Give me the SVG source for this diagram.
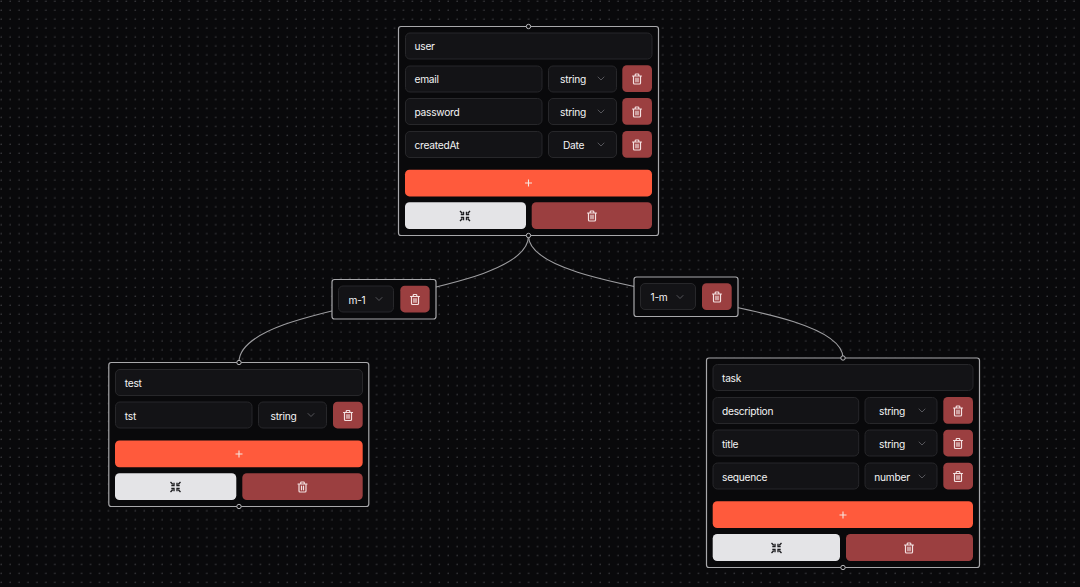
<svg xmlns="http://www.w3.org/2000/svg" width="1080" height="587" viewBox="0 0 1080 587">
<style>
text{font-family:Inter,"Liberation Sans",sans-serif;font-size:10.2px;letter-spacing:-.25px;fill:#f4f4f5;dominant-baseline:central}
.node{fill:#09090b;stroke:#a8a8ab;stroke-width:1.200}
.field{fill:#131316;stroke:#27272a;stroke-width:1}
.del{fill:#9b3f40}
.add{fill:#ff5a3c}
.col{fill:#e4e4e7}
.edge{fill:none;stroke:#9c9c9f;stroke-width:1.100}
.handle{fill:#09090b;stroke:#b8b8bb;stroke-width:1}
.ic{fill:none;stroke:#f4e2e2;stroke-width:1.200;stroke-linecap:round;stroke-linejoin:round}
.chev{fill:none;stroke:#55555a;stroke-width:1;stroke-linecap:round;stroke-linejoin:round}
.mid{text-anchor:middle}
</style>
<defs>
<pattern id="dots" width="8.940" height="8.940" patternUnits="userSpaceOnUse"><circle cx="1.200" cy="1.200" r="0.800" fill="#404045"/></pattern>
<g id="trash"><path class="ic" d="M-4.500-3H4.500M-3.500-3V4Q-3.500 5-2.500 5H2.500Q3.500 5 3.500 4V-3M-1.800-3V-4.200Q-1.800-5-1-5H1Q1.800-5 1.800-4.200V-3M-1-.8V2.800M1-.8V2.800"/></g>
<path id="chev" class="chev" d="M-3-1.500L0 1.500L3-1.500"/>
<g id="plus"><path d="M-3.500 0H3.500M0-3.500V3.500" fill="none" stroke="#f5e6e0" stroke-width="1.100"/></g>
<g id="collapse"><path d="M-5-5L-2.800-2.800M-1.500-4.200V-1.500H-4.200M5-5L2.800-2.800M1.500-4.200V-1.500H4.200M-5 5L-2.800 2.800M-1.500 4.200V1.500H-4.200M5 5L2.800 2.800M1.500 4.200V1.500H4.200" fill="none" stroke="#1c1c1f" stroke-width="1.350"/></g>
</defs>
<rect width="1080" height="587" fill="#09090b"/>
<rect width="1080" height="587" fill="url(#dots)"/>
<g id="connectors">
<path class="edge" d="M528.500 236C528.500 299 239 299 239 362"/>
<path class="edge" d="M528.500 236C528.500 297 843 297 843 358"/>
</g>
<g id="node-user">
<rect class="node" x="398.500" y="26.500" width="260" height="209" rx="2.500"/>
<circle class="handle" cx="528.500" cy="26.500" r="2.200"/><circle class="handle" cx="528.500" cy="235.500" r="2.200"/>
<rect class="field" x="405.500" y="33" width="246.500" height="26" rx="4.500"/><text x="414.500" y="46">user</text>
<rect class="field" x="405.500" y="66" width="136.500" height="26" rx="4.500"/><text x="414.500" y="79">email</text>
<rect class="field" x="548.500" y="66" width="68" height="26" rx="4.500"/><text class="mid" x="573" y="79">string</text><use href="#chev" x="601" y="78.500"/>
<rect class="del" x="622.300" y="65.300" width="29.700" height="26.700" rx="4.500"/><use href="#trash" x="637" y="79"/>
<rect class="field" x="405.500" y="98.500" width="136.500" height="26" rx="4.500"/><text x="414.500" y="112">password</text>
<rect class="field" x="548.500" y="98.500" width="68" height="26" rx="4.500"/><text class="mid" x="573" y="112">string</text><use href="#chev" x="601" y="111.500"/>
<rect class="del" x="622.300" y="98" width="29.700" height="26.700" rx="4.500"/><use href="#trash" x="637" y="112"/>
<rect class="field" x="405.500" y="131.500" width="136.500" height="26" rx="4.500"/><text x="414.500" y="145">createdAt</text>
<rect class="field" x="548.500" y="131.500" width="68" height="26" rx="4.500"/><text class="mid" x="573.500" y="145">Date</text><use href="#chev" x="601" y="144.500"/>
<rect class="del" x="622.300" y="131" width="29.700" height="26.700" rx="4.500"/><use href="#trash" x="637" y="145"/>
<rect class="add" x="405" y="169.700" width="247" height="26.700" rx="4.500"/><use href="#plus" x="528.500" y="183"/>
<rect class="col" x="405" y="202.300" width="121" height="26.700" rx="4.500"/><use href="#collapse" x="465" y="216"/>
<rect class="del" x="531.700" y="202.300" width="120.300" height="26.700" rx="4.500"/><use href="#trash" x="592" y="216"/>
</g>
<g id="edge-m-1">
<rect class="node" x="332" y="279.500" width="104" height="39.500" rx="2.500"/>
<rect class="field" x="338.500" y="286" width="55" height="26" rx="4.500"/><text class="mid" x="357" y="299.500">m-1</text><use href="#chev" x="379" y="299"/>
<rect class="del" x="400.300" y="285.700" width="29.400" height="26.700" rx="4.500"/><use href="#trash" x="415" y="299.500"/>
</g>
<g id="edge-1-m">
<rect class="node" x="634" y="277" width="104" height="39.500" rx="2.500"/>
<rect class="field" x="640.500" y="283.500" width="55" height="26" rx="4.500"/><text class="mid" x="659" y="297">1-m</text><use href="#chev" x="680" y="297"/>
<rect class="del" x="702" y="283.300" width="29.700" height="26.700" rx="4.500"/><use href="#trash" x="717" y="297"/>
</g>
<g id="node-test">
<rect class="node" x="108.800" y="362.500" width="260" height="144" rx="2.500"/>
<circle class="handle" cx="239" cy="362.500" r="2.200"/><circle class="handle" cx="239" cy="506.500" r="2.200"/>
<rect class="field" x="115.500" y="369.500" width="247" height="26" rx="4.500"/><text x="124.800" y="383">test</text>
<rect class="field" x="115.500" y="402" width="136.500" height="26" rx="4.500"/><text x="124.800" y="415.500">tst</text>
<rect class="field" x="258.500" y="402" width="68" height="26" rx="4.500"/><text class="mid" x="283.500" y="415.500">string</text><use href="#chev" x="311" y="415"/>
<rect class="del" x="333" y="401.700" width="29.700" height="26.700" rx="4.500"/><use href="#trash" x="348" y="415.500"/>
<rect class="add" x="115" y="440.500" width="247.700" height="26.700" rx="4.500"/><use href="#plus" x="239" y="454"/>
<rect class="col" x="115" y="473.300" width="121.300" height="26.700" rx="4.500"/><use href="#collapse" x="175.500" y="487"/>
<rect class="del" x="242.300" y="473.300" width="120.400" height="26.700" rx="4.500"/><use href="#trash" x="302.500" y="487"/>
</g>
<g id="node-task">
<rect class="node" x="706.500" y="358" width="273" height="209.500" rx="2.500"/>
<circle class="handle" cx="843" cy="358" r="2.200"/><circle class="handle" cx="843" cy="567.500" r="2.200"/>
<rect class="field" x="713" y="364.500" width="260" height="26" rx="4.500"/><text x="722" y="378">task</text>
<rect class="field" x="713" y="397.500" width="145.700" height="26" rx="4.500"/><text x="722" y="411">description</text>
<rect class="field" x="865" y="397.500" width="72" height="26" rx="4.500"/><text class="mid" x="892" y="411">string</text><use href="#chev" x="922" y="410.500"/>
<rect class="del" x="943.300" y="397" width="29.700" height="26.700" rx="4.500"/><use href="#trash" x="958" y="411"/>
<rect class="field" x="713" y="430" width="145.700" height="26" rx="4.500"/><text x="722" y="444">title</text>
<rect class="field" x="865" y="430" width="72" height="26" rx="4.500"/><text class="mid" x="892" y="444">string</text><use href="#chev" x="922" y="443.500"/>
<rect class="del" x="943.300" y="429.700" width="29.700" height="26.700" rx="4.500"/><use href="#trash" x="958" y="443.500"/>
<rect class="field" x="713" y="463" width="145.700" height="26" rx="4.500"/><text x="722" y="477">sequence</text>
<rect class="field" x="865" y="463" width="72" height="26" rx="4.500"/><text class="mid" x="892" y="477">number</text><use href="#chev" x="922" y="476.500"/>
<rect class="del" x="943.300" y="462.700" width="29.700" height="26.700" rx="4.500"/><use href="#trash" x="958" y="476.500"/>
<rect class="add" x="712.700" y="501.300" width="260.300" height="26.700" rx="4.500"/><use href="#plus" x="843" y="515"/>
<rect class="col" x="712.700" y="534" width="127.300" height="27" rx="4.500"/><use href="#collapse" x="776.500" y="548"/>
<rect class="del" x="846" y="534" width="127" height="27" rx="4.500"/><use href="#trash" x="909" y="548"/>
</g>
</svg>
